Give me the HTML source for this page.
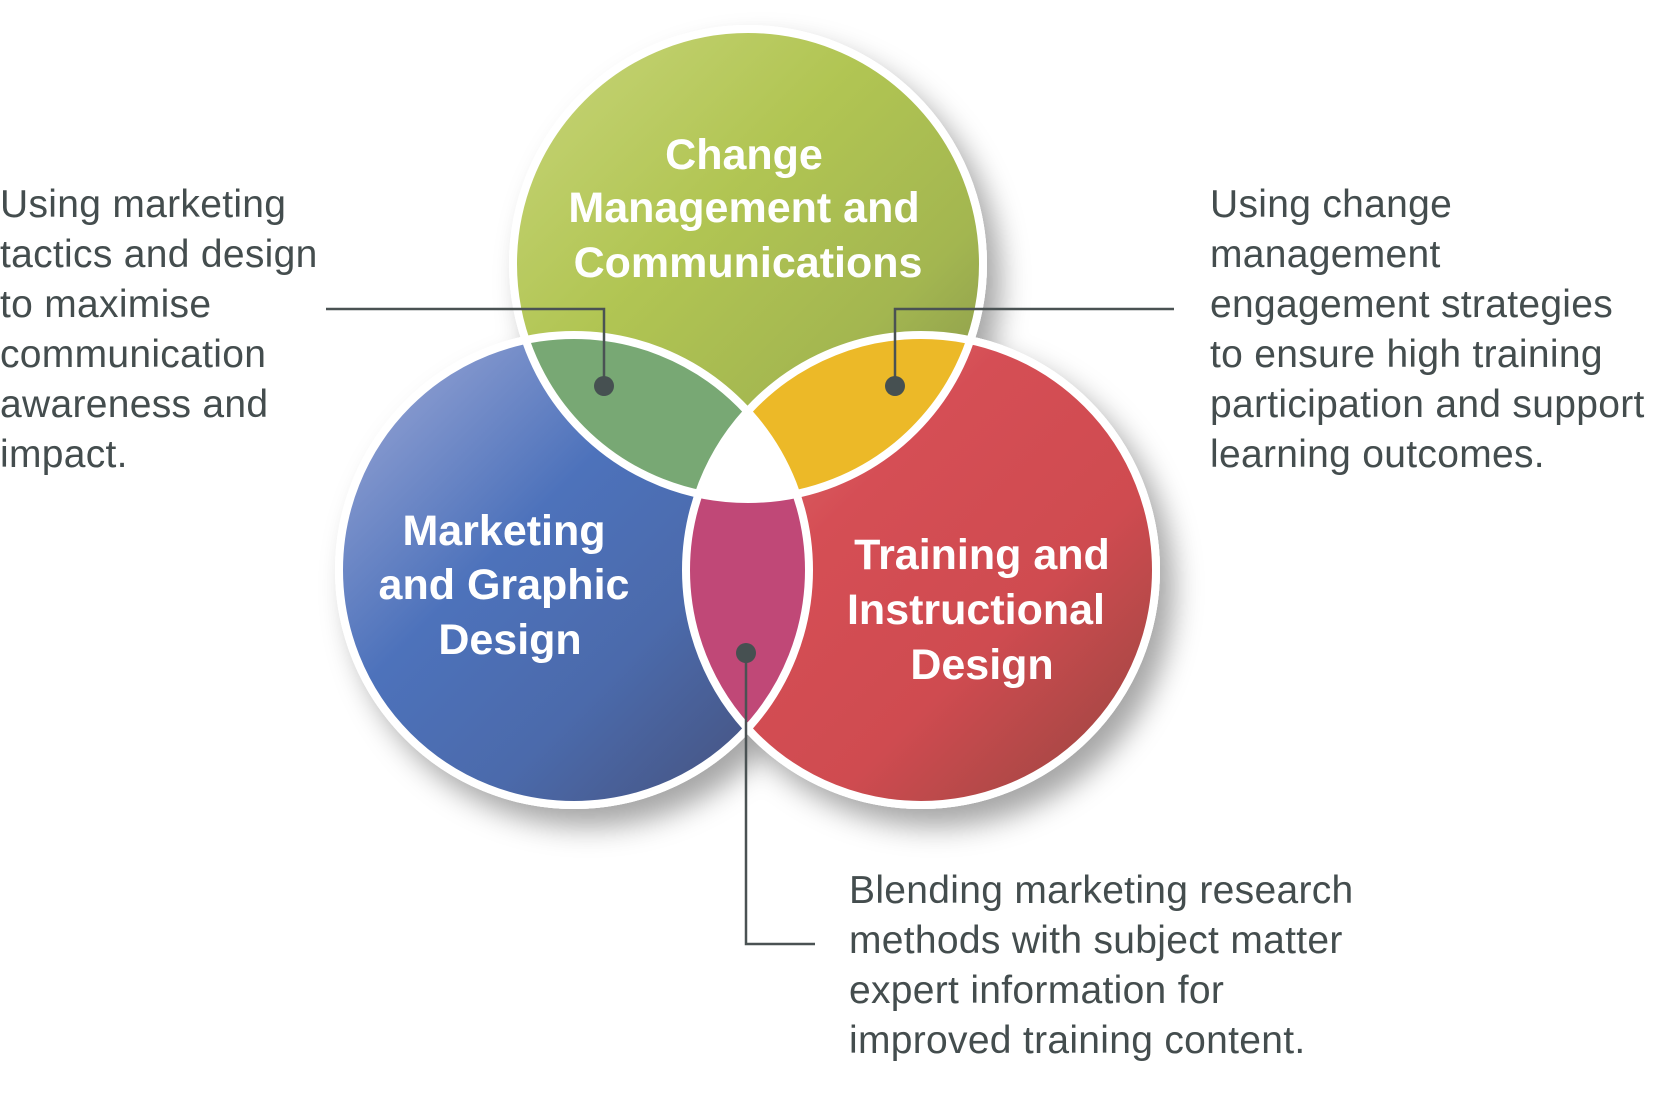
<!DOCTYPE html>
<html><head><meta charset="utf-8"><style>
html,body{margin:0;padding:0;background:#fff;}
svg{display:block;}
.side{font-family:"Liberation Sans",sans-serif;font-size:39px;letter-spacing:0.3px;fill:#444d4e;}
.lab{font-family:"Liberation Sans",sans-serif;font-size:43px;font-weight:bold;fill:#fff;text-anchor:middle;}
</style></head><body>
<svg width="1670" height="1108" viewBox="0 0 1670 1108" xmlns="http://www.w3.org/2000/svg">
<defs>
<linearGradient id="gT" x1="0" y1="0" x2="1" y2="1">
<stop offset="0" stop-color="#c8d57a"/><stop offset="0.4" stop-color="#b1c553"/><stop offset="0.7" stop-color="#a3b650"/><stop offset="1" stop-color="#7f8c4a"/></linearGradient>
<linearGradient id="gL" x1="0" y1="0" x2="1" y2="1">
<stop offset="0" stop-color="#a2acd8"/><stop offset="0.4" stop-color="#4d72bb"/><stop offset="0.65" stop-color="#4b6aab"/><stop offset="1" stop-color="#454d74"/></linearGradient>
<linearGradient id="gR" x1="0" y1="0" x2="1" y2="1">
<stop offset="0" stop-color="#e07b78"/><stop offset="0.35" stop-color="#d54e55"/><stop offset="0.65" stop-color="#cf4b50"/><stop offset="1" stop-color="#93463f"/></linearGradient>
<clipPath id="cT"><circle cx="748" cy="264" r="235"/></clipPath>
<clipPath id="cL"><circle cx="574" cy="570" r="235"/></clipPath>
<clipPath id="cR"><circle cx="921" cy="570" r="235"/></clipPath>
<filter id="sh" x="-20%" y="-20%" width="150%" height="150%">
<feDropShadow dx="14" dy="18" stdDeviation="14" flood-color="#000" flood-opacity="0.35"/></filter>
</defs>
<g filter="url(#sh)">
<circle cx="748" cy="264" r="239" fill="#fff"/>
<circle cx="574" cy="570" r="239" fill="#fff"/>
<circle cx="921" cy="570" r="239" fill="#fff"/>
</g>
<circle cx="748" cy="264" r="235" fill="url(#gT)"/>
<circle cx="574" cy="570" r="235" fill="url(#gL)"/>
<circle cx="921" cy="570" r="235" fill="url(#gR)"/>
<g clip-path="url(#cT)"><circle cx="574" cy="570" r="235" fill="#78a874"/><circle cx="921" cy="570" r="235" fill="#ecb928"/></g>
<g clip-path="url(#cL)"><circle cx="921" cy="570" r="235" fill="#c04877"/><g clip-path="url(#cR)"><circle cx="748" cy="264" r="235" fill="#fff"/></g></g>
<g fill="none" stroke="#fff" stroke-width="8">
<circle cx="748" cy="264" r="235"/>
<circle cx="574" cy="570" r="235"/>
<circle cx="921" cy="570" r="235"/>
</g>
<g fill="none" stroke="#4a5253" stroke-width="2.5">
<polyline points="326,309 604,309 604,386"/>
<polyline points="1174,309 895,309 895,386"/>
<polyline points="746,653 746,944 815,944"/>
</g>
<g fill="#465051">
<circle cx="604" cy="386" r="10"/><circle cx="895" cy="386" r="10"/><circle cx="746" cy="653" r="10"/>
</g>
<text class="lab"><tspan x="744" y="169">Change</tspan><tspan x="744" y="222">Management and</tspan><tspan x="748" y="277">Communications</tspan></text>
<text class="lab"><tspan x="504" y="545">Marketing</tspan><tspan x="504" y="599">and Graphic</tspan><tspan x="510" y="654">Design</tspan></text>
<text class="lab"><tspan x="982" y="569">Training and</tspan><tspan x="976" y="624">Instructional</tspan><tspan x="982" y="679">Design</tspan></text>
<text class="side"><tspan x="0" y="217">Using marketing</tspan><tspan x="0" y="267">tactics and design</tspan><tspan x="0" y="317">to maximise</tspan><tspan x="0" y="367">communication</tspan><tspan x="0" y="417">awareness and</tspan><tspan x="0" y="467">impact.</tspan></text>
<text class="side"><tspan x="1210" y="217">Using change</tspan><tspan x="1210" y="267">management</tspan><tspan x="1210" y="317">engagement strategies</tspan><tspan x="1210" y="367">to ensure high training</tspan><tspan x="1210" y="417">participation and support</tspan><tspan x="1210" y="467">learning outcomes.</tspan></text>
<text class="side"><tspan x="849" y="903">Blending marketing research</tspan><tspan x="849" y="953">methods with subject matter</tspan><tspan x="849" y="1003">expert information for</tspan><tspan x="849" y="1053">improved training content.</tspan></text>
</svg>
</body></html>
